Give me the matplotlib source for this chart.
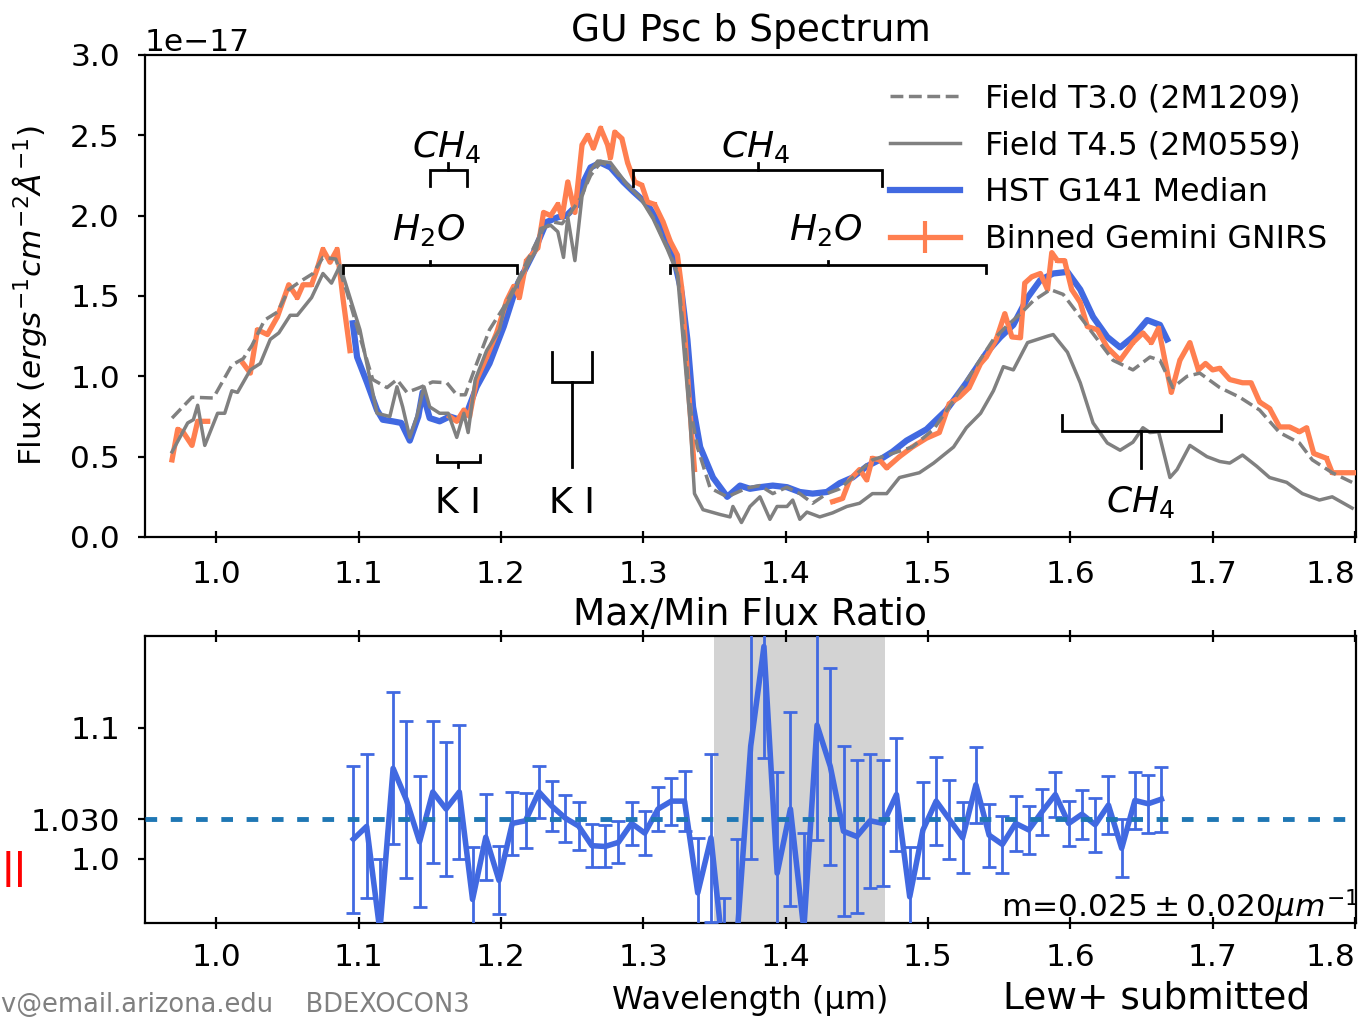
import numpy as np
import matplotlib
matplotlib.use("Agg")
import matplotlib.pyplot as plt

# ---------------- data (flux in units of 1e-17) ----------------
SCALE = 1e-17

wl_t30 = [0.969, 0.983, 0.998, 1.011, 1.019, 1.025, 1.034, 1.043, 1.051, 1.059, 1.068, 1.075,
          1.084, 1.092, 1.101, 1.110, 1.120, 1.127, 1.134, 1.143, 1.152, 1.162, 1.169, 1.175,
          1.183, 1.192, 1.202, 1.211, 1.223, 1.230, 1.237, 1.243, 1.249, 1.256, 1.263, 1.270,
          1.277, 1.289, 1.298, 1.307, 1.317, 1.324, 1.329, 1.333, 1.338, 1.347, 1.359, 1.373,
          1.382, 1.391, 1.401, 1.410, 1.419, 1.429, 1.438, 1.447, 1.461, 1.475, 1.489, 1.504,
          1.518, 1.532, 1.546, 1.555, 1.565, 1.574, 1.586, 1.595, 1.607, 1.619, 1.630, 1.644,
          1.656, 1.663, 1.672, 1.682, 1.691, 1.705, 1.719, 1.733, 1.747, 1.761, 1.770, 1.784,
          1.798]
fl_t30 = [0.74, 0.87, 0.865, 1.07, 1.11, 1.19, 1.35, 1.40, 1.54, 1.59, 1.64, 1.74,
          1.73, 1.52, 1.245, 0.98, 0.93, 0.98, 0.90, 0.93, 0.965, 0.96, 0.885, 0.885,
          1.08, 1.29, 1.43, 1.58, 1.80, 1.92, 1.96, 1.95, 2.02, 2.11, 2.25, 2.33,
          2.31, 2.19, 2.11, 1.99, 1.80, 1.65, 1.23, 0.81, 0.56, 0.305, 0.25, 0.305,
          0.32, 0.27, 0.31, 0.27, 0.21, 0.27, 0.30, 0.37, 0.48, 0.52, 0.56, 0.67,
          0.85, 1.04, 1.23, 1.31, 1.39, 1.47, 1.54, 1.51, 1.37, 1.23, 1.10, 1.04,
          1.12, 1.10, 0.93, 1.00, 1.02, 0.93, 0.87, 0.79, 0.65, 0.585, 0.48, 0.40,
          0.34]

wl_t45 = [0.969, 0.980, 0.984, 0.987, 0.992, 1.001, 1.006, 1.011, 1.015, 1.024, 1.031, 1.038,
          1.044, 1.052, 1.057, 1.067, 1.075, 1.081, 1.087, 1.101, 1.113, 1.122, 1.127, 1.131,
          1.136, 1.141, 1.146, 1.150, 1.157, 1.163, 1.169, 1.174, 1.177, 1.182, 1.190, 1.199,
          1.202, 1.213, 1.225, 1.228, 1.235, 1.240, 1.244, 1.247, 1.252, 1.257, 1.263, 1.268,
          1.277, 1.289, 1.298, 1.307, 1.317, 1.324, 1.328, 1.333, 1.336, 1.342, 1.354, 1.361,
          1.363, 1.369, 1.375, 1.382, 1.389, 1.394, 1.401, 1.405, 1.410, 1.415, 1.424, 1.433,
          1.443, 1.452, 1.461, 1.471, 1.480, 1.494, 1.504, 1.518, 1.527, 1.537, 1.546, 1.553,
          1.560, 1.570, 1.584, 1.588, 1.598, 1.607, 1.616, 1.626, 1.635, 1.644, 1.651, 1.656,
          1.662, 1.670, 1.675, 1.684, 1.696, 1.705, 1.712, 1.721, 1.731, 1.740, 1.752, 1.763,
          1.775, 1.784, 1.798]
fl_t45 = [0.53, 0.71, 0.73, 0.82, 0.57, 0.77, 0.77, 0.91, 0.90, 1.04, 1.08, 1.23,
          1.27, 1.38, 1.38, 1.49, 1.64, 1.58, 1.69, 1.29, 0.77, 0.75, 0.935, 0.81,
          0.62, 0.75, 0.935, 0.81, 0.77, 0.77, 0.62, 0.77, 0.65, 0.98, 1.16, 1.29,
          1.41, 1.60, 1.79, 1.92, 1.94, 1.90, 1.74, 1.99, 1.72, 2.12, 2.28, 2.34,
          2.33, 2.19, 2.11, 1.98, 1.79, 1.64, 1.23, 0.71, 0.27, 0.17, 0.14, 0.125,
          0.19, 0.09, 0.19, 0.25, 0.11, 0.19, 0.19, 0.23, 0.11, 0.155, 0.125, 0.15,
          0.19, 0.21, 0.27, 0.27, 0.37, 0.40, 0.46, 0.56, 0.68, 0.77, 0.91, 1.06,
          1.04, 1.21, 1.25, 1.26, 1.15, 0.96, 0.71, 0.585, 0.54, 0.59, 0.68, 0.65,
          0.655, 0.37, 0.42, 0.57, 0.50, 0.47, 0.46, 0.51, 0.44, 0.37, 0.34, 0.27,
          0.23, 0.25, 0.18]

wl_hst = [1.096, 1.099, 1.106, 1.113, 1.117, 1.124, 1.130, 1.136, 1.142, 1.145, 1.150, 1.157,
          1.164, 1.171, 1.176, 1.183, 1.192, 1.202, 1.211, 1.223, 1.232, 1.240, 1.246, 1.254,
          1.258, 1.263, 1.270, 1.277, 1.286, 1.293, 1.303, 1.312, 1.321, 1.327, 1.331, 1.335,
          1.340, 1.349, 1.359, 1.368, 1.375, 1.382, 1.391, 1.401, 1.410, 1.419, 1.429, 1.438,
          1.447, 1.457, 1.466, 1.475, 1.485, 1.499, 1.513, 1.527, 1.541, 1.551, 1.560, 1.570,
          1.579, 1.588, 1.598, 1.607, 1.616, 1.626, 1.635, 1.644, 1.654, 1.663, 1.668]
fl_hst = [1.33, 1.12, 0.96, 0.79, 0.73, 0.72, 0.71, 0.60, 0.75, 0.90, 0.74, 0.72,
          0.75, 0.73, 0.77, 0.935, 1.08, 1.31, 1.56, 1.77, 1.96, 1.99, 2.00, 2.07,
          2.21, 2.30, 2.33, 2.30, 2.21, 2.15, 2.07, 1.94, 1.755, 1.52, 1.23, 0.81,
          0.56, 0.37, 0.25, 0.32, 0.30, 0.31, 0.32, 0.31, 0.28, 0.27, 0.28, 0.335,
          0.37, 0.44, 0.48, 0.53, 0.60, 0.67, 0.79, 0.96, 1.145, 1.245, 1.32, 1.49,
          1.60, 1.64, 1.65, 1.54, 1.37, 1.245, 1.18, 1.245, 1.35, 1.32, 1.23]

nan = float("nan")
wl_gn = [0.969, 0.973, 0.977, 0.983, 0.987, 0.994, 1.005, 1.019, 1.024, 1.029, 1.036, 1.043,
         1.051, 1.057, 1.061, 1.067, 1.071, 1.075, 1.080, 1.085, 1.089, 1.094, 1.130, 1.164,
         1.169, 1.174, 1.178, 1.183, 1.190, 1.197, 1.204, 1.209, 1.213, 1.218, 1.226, 1.230,
         1.235, 1.240, 1.243, 1.247, 1.252, 1.257, 1.261, 1.265, 1.270, 1.275, 1.277, 1.280,
         1.285, 1.289, 1.294, 1.299, 1.303, 1.308, 1.314, 1.319, 1.324, 1.327, 1.331, 1.334,
         1.336, 1.390, 1.433, 1.440, 1.445, 1.452, 1.457, 1.461, 1.466, 1.471, 1.480, 1.489,
         1.499, 1.508, 1.515, 1.522, 1.529, 1.537, 1.541, 1.548, 1.554, 1.559, 1.565, 1.568,
         1.573, 1.579, 1.584, 1.587, 1.591, 1.596, 1.601, 1.607, 1.612, 1.619, 1.626, 1.635,
         1.644, 1.651, 1.657, 1.662, 1.666, 1.671, 1.677, 1.684, 1.690, 1.695, 1.700, 1.705,
         1.712, 1.721, 1.727, 1.733, 1.740, 1.747, 1.754, 1.761, 1.766, 1.771, 1.780, 1.784,
         1.794, 1.800]
fl_gn = [0.48, 0.67, 0.65, 0.57, 0.72, 0.72, nan, 1.08, 1.02, 1.29, 1.26, 1.37,
         1.57, 1.49, 1.57, 1.57, 1.67, 1.79, 1.71, 1.79, 1.49, 1.16, nan, 0.75,
         0.72, 0.79, 0.75, 0.98, 1.12, 1.27, 1.47, 1.56, 1.49, 1.72, 1.80, 2.02,
         2.00, 2.07, 1.99, 2.21, 2.02, 2.44, 2.50, 2.42, 2.545, 2.44, 2.36, 2.52,
         2.48, 2.33, 2.21, 2.19, 2.085, 2.07, 1.96, 1.84, 1.755, 1.55, 1.02, 0.65,
         0.42, nan, 0.22, 0.24, 0.355, 0.42, 0.355, 0.49, 0.48, 0.43, 0.50, 0.56,
         0.615, 0.65, 0.83, 0.87, 0.93, 1.08, 1.12, 1.23, 1.39, 1.245, 1.24, 1.58,
         1.62, 1.64, 1.54, 1.77, 1.72, 1.72, 1.54, 1.46, 1.31, 1.29, 1.18, 1.10,
         1.21, 1.27, 1.21, 1.30, 1.12, 0.90, 1.10, 1.21, 1.04, 1.08, 1.04, 1.05,
         0.98, 0.96, 0.96, 0.84, 0.80, 0.685, 0.685, 0.655, 0.68, 0.52, 0.49, 0.40,
         0.40, 0.40]
gn_err = 0.012

# Max/Min flux ratio
wl_ratio = [1.0964, 1.1057, 1.1150, 1.1243, 1.1336, 1.1429, 1.1522, 1.1615, 1.1708, 1.1801,
            1.1894, 1.1987, 1.2080, 1.2173, 1.2267, 1.2360, 1.2453, 1.2546, 1.2639, 1.2732,
            1.2825, 1.2918, 1.3011, 1.3104, 1.3197, 1.3290, 1.3383, 1.3476, 1.3569, 1.3662,
            1.3755, 1.3848, 1.3941, 1.4034, 1.4128, 1.4221, 1.4314, 1.4407, 1.4500, 1.4593,
            1.4686, 1.4779, 1.4872, 1.4965, 1.5058, 1.5151, 1.5244, 1.5337, 1.5430, 1.5523,
            1.5616, 1.5709, 1.5802, 1.5895, 1.5989, 1.6082, 1.6175, 1.6268, 1.6361, 1.6454,
            1.6547, 1.6640]
ratio = [1.015, 1.0247, 0.945, 1.069, 1.045, 1.013, 1.051, 1.038, 1.051, 0.969,
         1.0165, 0.9835, 1.027, 1.029, 1.051, 1.040, 1.031, 1.025, 1.010, 1.0094,
         1.0125, 1.027, 1.0196, 1.038, 1.044, 1.044, 0.974, 1.016, 0.920, 0.945,
         1.086, 1.162, 0.989, 1.038, 0.946, 1.102, 1.0705, 1.021, 1.017, 1.029,
         1.027, 1.049, 0.971, 1.022, 1.044, 1.030, 1.016, 1.0565, 1.018, 1.011,
         1.027, 1.022, 1.036, 1.049, 1.027, 1.034, 1.026, 1.041, 1.008, 1.0445,
         1.042, 1.0455]
ratio_err = [0.056, 0.055, 0.055, 0.058, 0.060, 0.050, 0.054, 0.051, 0.051, 0.040,
             0.033, 0.026, 0.024, 0.021, 0.020, 0.019, 0.018, 0.018, 0.0165, 0.016,
             0.016, 0.0165, 0.0165, 0.017, 0.018, 0.023, 0.042, 0.064, 0.050, 0.070,
             0.086, 0.085, 0.077, 0.074, 0.074, 0.088, 0.075, 0.065, 0.058, 0.051,
             0.048, 0.043, 0.038, 0.0365, 0.0335, 0.030, 0.027, 0.029, 0.024, 0.022,
             0.021, 0.018, 0.0176, 0.017, 0.017, 0.0186, 0.0206, 0.022, 0.022, 0.022,
             0.022, 0.0247]
ratio_level = 1.03
shade_band = (1.35, 1.47)

xticks = [1.0, 1.1, 1.2, 1.3, 1.4, 1.5, 1.6, 1.7, 1.8]
xticklabels = ["1.0", "1.1", "1.2", "1.3", "1.4", "1.5", "1.6", "1.7", "1.8"]
yticks_top = [0.0, 0.5, 1.0, 1.5, 2.0, 2.5, 3.0]
yticks_bot = [1.0, 1.03, 1.1]
yticklabels_bot = ["1.0", "1.030", "1.1"]

# spectral features: label, x0, x1, bar y, end length (signed), stem end y, label x, label baseline y
features = [
    ("$H_2O$", 1.089, 1.211, 1.693, -0.05, 1.72, 1.149, 1.85),
    ("$H_2O$", 1.319, 1.541, 1.693, -0.05, 1.72, 1.428, 1.85),
    ("$CH_4$", 1.150, 1.176, 2.284, -0.10, 2.33, 1.162, 2.365),
    ("$CH_4$", 1.293, 1.468, 2.284, -0.10, 2.33, 1.379, 2.365),
    ("K I", 1.155, 1.185, 0.467, 0.045, 0.436, 1.170, 0.15),
    ("K I", 1.236, 1.264, 0.965, 0.185, 0.436, 1.250, 0.15),
    ("$CH_4$", 1.594, 1.706, 0.660, 0.100, 0.430, 1.649, 0.156),
]

# ---------------- figure ----------------
plt.rcParams["font.family"] = ["DejaVu Sans"]
plt.rcParams["font.size"] = 22.5
plt.rcParams["mathtext.fontset"] = "dejavusans"

fig = plt.figure(figsize=(13.58, 10.18), dpi=100)
ax1 = fig.add_axes([0.10677, 0.47250, 0.89175, 0.47348])
ax2 = fig.add_axes([0.10677, 0.09332, 0.89175, 0.28193])

sc = lambda v: np.asarray(v, dtype=float) * SCALE

l_hst, = ax1.plot(wl_hst, sc(fl_hst), color="royalblue", lw=4.5, zorder=2)
eb_gn = ax1.errorbar(wl_gn, sc(fl_gn), yerr=gn_err * SCALE, color="coral", lw=3.8,
                     elinewidth=3, zorder=3)
l_t30, = ax1.plot(wl_t30, sc(fl_t30), color="gray", ls="--", lw=2.5, zorder=4)
l_t45, = ax1.plot(wl_t45, sc(fl_t45), color="gray", lw=2.5, zorder=5)

for lab, x0, x1, yb, dy, ystem, lx, ly in features:
    ax1.plot([x0, x0, x1, x1], sc([yb + dy, yb, yb, yb + dy]), color="k", lw=2,
             solid_joinstyle="miter", zorder=6)
    xc = 0.5 * (x0 + x1)
    ax1.plot([xc, xc], sc([yb, ystem]), color="k", lw=2, zorder=6)
    ax1.text(lx, ly * SCALE, lab, fontsize=26, ha="center", va="baseline", zorder=7)

ax1.legend([l_t30, l_t45, l_hst, eb_gn],
           ["Field T3.0 (2M1209)", "Field T4.5 (2M0559)", "HST G141 Median",
            "Binned Gemini GNIRS"],
           loc="upper right", frameon=False, fontsize=22.8, handlelength=2.2)

ax1.set_xlim(0.95, 1.8007)
ax1.set_ylim(0, 3.0e-17)
ax1.set_xticks(xticks)
ax1.set_xticklabels(xticklabels)
ax1.set_yticks(sc(yticks_top))
ax1.set_title("GU Psc b Spectrum", fontsize=27, pad=10)
ax1.set_ylabel(r"Flux ($ergs^{-1} cm^{-2} \AA^{-1}$)", fontsize=22.5)
ax1.yaxis.set_label_coords(-0.079, 0.5)
ax1.yaxis.get_offset_text().set_fontsize(22.5)

# bottom panel
ax2.axvspan(shade_band[0], shade_band[1], color="lightgray", zorder=0, lw=0)
ax2.errorbar(wl_ratio, ratio, yerr=ratio_err, color="royalblue", lw=4, elinewidth=2,
             capsize=5, capthick=2, zorder=3)
ax2.axhline(ratio_level, color="#1f77b4", ls=(0, (2.4, 2.8)), lw=3.5, zorder=4)
ax2.set_xlim(0.95, 1.8007)
ax2.set_ylim(0.951, 1.170)
ax2.set_xticks(xticks)
ax2.set_xticklabels(xticklabels)
ax2.set_yticks(yticks_bot)
ax2.set_yticklabels(yticklabels_bot)
ax2.set_title("Max/Min Flux Ratio", fontsize=27, pad=8)
ax2.set_xlabel("Wavelength (µm)", fontsize=23, labelpad=9)
ax2.text(1.5513, 0.955, r"m=$0.025\pm0.020\mu m^{-1}$", fontsize=22.5, ha="left",
         va="baseline", zorder=8)

for ax in (ax1, ax2):
    for s in ax.spines.values():
        s.set_linewidth(1.6)
    ax.tick_params(axis="y", direction="out", length=5, width=1.6, pad=13)
    ax.get_xticklabels()[-1].set_horizontalalignment("right")
ax1.tick_params(axis="x", direction="inout", length=9, width=1.6, pad=12)
ax2.tick_params(axis="x", direction="inout", length=9, width=1.6, pad=10, top=True)

# slide annotations
fig.text(0.001, (1018 - 1012) / 1018, "v@email.arizona.edu    BDEXOCON3", color="gray",
         fontsize=18.5, ha="left", va="baseline")
fig.text(1003 / 1358, 0.001, "Lew+ submitted", fontsize=27, ha="left", va="bottom")
fig.text(0.001, (1018 - 869) / 1018, "||", color="red", fontsize=25, ha="left", va="center",
         fontweight="bold")

fig.savefig("out.png", dpi=100)
